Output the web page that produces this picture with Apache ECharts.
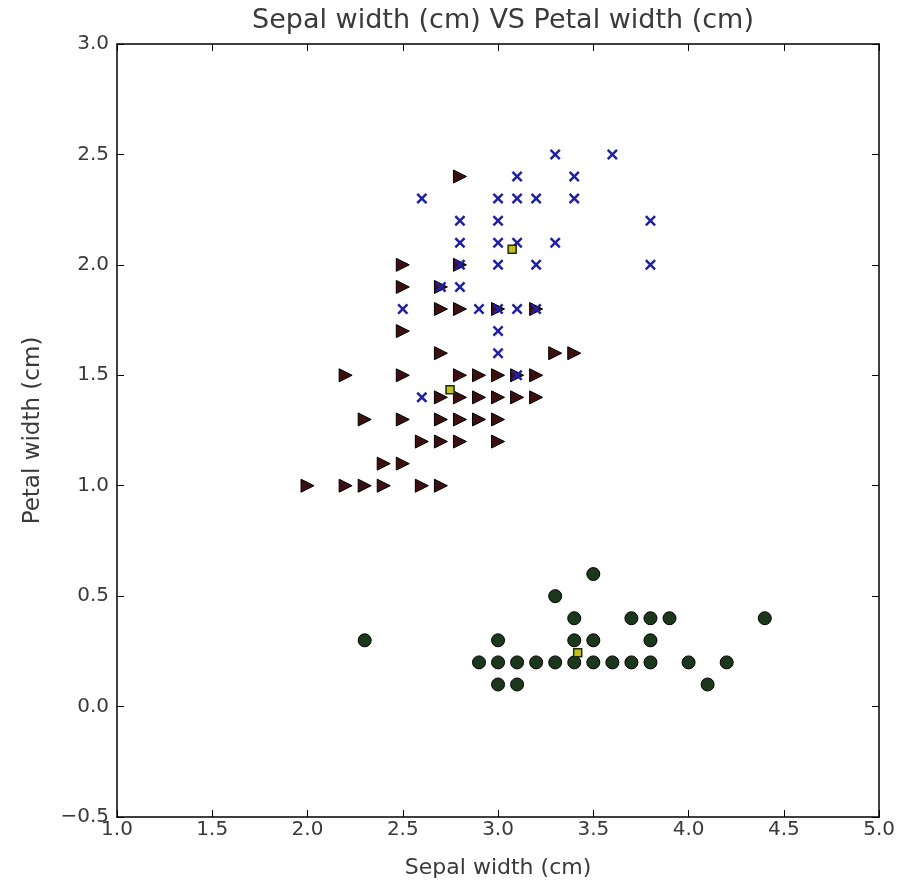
<!DOCTYPE html>
<html>
<head>
<meta charset="utf-8">
<script src="https://cdn.jsdelivr.net/npm/echarts@6/dist/echarts.min.js"></script>
<style>
  html, body { margin: 0; padding: 0; background: #ffffff; }
  #chart { width: 898px; height: 887px; }
</style>
</head>
<body>
<div id="chart"></div>
<script>
// Sepal width (x) vs petal width (y), grouped by cluster
const titleText = 'Sepal width (cm) VS Petal width (cm)';
const xAxisName = 'Sepal width (cm)';
const yAxisName = 'Petal width (cm)';

// Cluster with small petals
const clusterCircles = [
  [3.5, 0.6], [3.3, 0.5],
  [3.4, 0.4], [3.7, 0.4], [3.8, 0.4], [3.9, 0.4], [4.4, 0.4],
  [2.3, 0.3], [3.0, 0.3], [3.4, 0.3], [3.5, 0.3], [3.8, 0.3],
  [2.9, 0.2], [3.0, 0.2], [3.1, 0.2], [3.2, 0.2], [3.3, 0.2], [3.4, 0.2],
  [3.5, 0.2], [3.6, 0.2], [3.7, 0.2], [3.8, 0.2], [4.0, 0.2], [4.2, 0.2],
  [3.0, 0.1], [3.1, 0.1], [4.1, 0.1]
];

// Middle cluster
const clusterTriangles = [
  [2.8, 2.4],
  [2.5, 2.0], [2.8, 2.0],
  [2.5, 1.9], [2.7, 1.9],
  [2.7, 1.8], [2.8, 1.8], [3.0, 1.8], [3.2, 1.8],
  [2.5, 1.7],
  [2.7, 1.6], [3.3, 1.6], [3.4, 1.6],
  [2.2, 1.5], [2.5, 1.5], [2.8, 1.5], [2.9, 1.5], [3.0, 1.5], [3.1, 1.5], [3.2, 1.5],
  [2.7, 1.4], [2.8, 1.4], [2.9, 1.4], [3.0, 1.4], [3.1, 1.4], [3.2, 1.4],
  [2.3, 1.3], [2.5, 1.3], [2.7, 1.3], [2.8, 1.3], [2.9, 1.3], [3.0, 1.3],
  [2.6, 1.2], [2.7, 1.2], [2.8, 1.2], [3.0, 1.2],
  [2.4, 1.1], [2.5, 1.1],
  [2.0, 1.0], [2.2, 1.0], [2.3, 1.0], [2.4, 1.0], [2.6, 1.0], [2.7, 1.0]
];

// Cluster with large petals
const clusterCrosses = [
  [3.3, 2.5], [3.6, 2.5],
  [3.1, 2.4], [3.4, 2.4],
  [2.6, 2.3], [3.0, 2.3], [3.1, 2.3], [3.2, 2.3], [3.4, 2.3],
  [2.8, 2.2], [3.0, 2.2], [3.8, 2.2],
  [2.8, 2.1], [3.0, 2.1], [3.1, 2.1], [3.3, 2.1],
  [2.8, 2.0], [3.0, 2.0], [3.2, 2.0], [3.8, 2.0],
  [2.7, 1.9], [2.8, 1.9],
  [2.5, 1.8], [2.9, 1.8], [3.0, 1.8], [3.1, 1.8], [3.2, 1.8],
  [3.0, 1.7], [3.0, 1.6], [3.1, 1.5], [2.6, 1.4]
];

// Cluster centres
const centroids = [
  [3.418, 0.244], [2.748, 1.434], [3.074, 2.071]
];

const xTicks = { min: 1.0, max: 5.0, step: 0.5 };
const yTicks = { min: -0.5, max: 3.0, step: 0.5 };

const crossPath = 'path://M0,1.6 L1.6,0 L5,3.4 L8.4,0 L10,1.6 L6.6,5 L10,8.4 L8.4,10 L5,6.6 L1.6,10 L0,8.4 L3.4,5 Z';

const fmt = v => v.toFixed(1).replace('-', '\u2212');
const labelFont = { fontFamily: 'DejaVu Sans', fontSize: 20, color: '#3a3a3a' };

function axisBase(extra) {
  return Object.assign({
    type: 'value',
    axisLine: { show: true, onZero: false, lineStyle: { color: '#000000', width: 1.5 } },
    axisTick: { show: true, inside: true, length: 7, lineStyle: { color: '#000000', width: 1 } },
    splitLine: { show: false }
  }, extra);
}

const chart = echarts.init(document.getElementById('chart'), null, { renderer: 'canvas' });
chart.setOption({
  backgroundColor: '#ffffff',
  animation: false,
  title: {
    text: titleText,
    left: 498, top: 2, textAlign: 'center',
    textStyle: { fontFamily: 'DejaVu Sans', fontSize: 27, fontWeight: 'normal', color: '#3a3a3a' }
  },
  grid: { left: 117, right: 18, top: 44, bottom: 70 },
  xAxis: [
    axisBase({
      min: xTicks.min, max: xTicks.max, interval: xTicks.step, position: 'bottom',
      name: xAxisName, nameLocation: 'middle', nameGap: 40,
      nameTextStyle: { fontFamily: 'DejaVu Sans', fontSize: 22, color: '#3a3a3a' },
      axisLabel: Object.assign({ formatter: fmt, margin: 3 }, labelFont)
    }),
    axisBase({
      min: xTicks.min, max: xTicks.max, interval: xTicks.step, position: 'top',
      axisLabel: { show: false }
    })
  ],
  yAxis: [
    axisBase({
      min: yTicks.min, max: yTicks.max, interval: yTicks.step, position: 'left',
      name: yAxisName, nameLocation: 'middle', nameGap: 72,
      nameTextStyle: { fontFamily: 'DejaVu Sans', fontSize: 23, color: '#3a3a3a' },
      axisLabel: Object.assign({ formatter: fmt, margin: 8 }, labelFont)
    }),
    axisBase({
      min: yTicks.min, max: yTicks.max, interval: yTicks.step, position: 'right',
      axisLabel: { show: false }
    })
  ],
  series: [
    {
      type: 'scatter', data: clusterTriangles,
      symbol: 'triangle', symbolRotate: -90, symbolSize: 13,
      itemStyle: { color: '#3c1010', borderColor: '#000000', borderWidth: 1, opacity: 1 },
      z: 2
    },
    {
      type: 'scatter', data: clusterCrosses,
      symbol: crossPath, symbolSize: 11,
      itemStyle: { color: '#2020a6', opacity: 1 },
      z: 3
    },
    {
      type: 'scatter', data: clusterCircles,
      symbol: 'circle', symbolSize: 13,
      itemStyle: { color: '#1c381c', borderColor: '#000000', borderWidth: 1, opacity: 1 },
      z: 4
    },
    {
      type: 'scatter', data: centroids,
      symbol: 'rect', symbolSize: 8,
      itemStyle: { color: '#c0c020', borderColor: '#1c2c00', borderWidth: 1.5, opacity: 1 },
      z: 5
    }
  ]
});
</script>
</body>
</html>
